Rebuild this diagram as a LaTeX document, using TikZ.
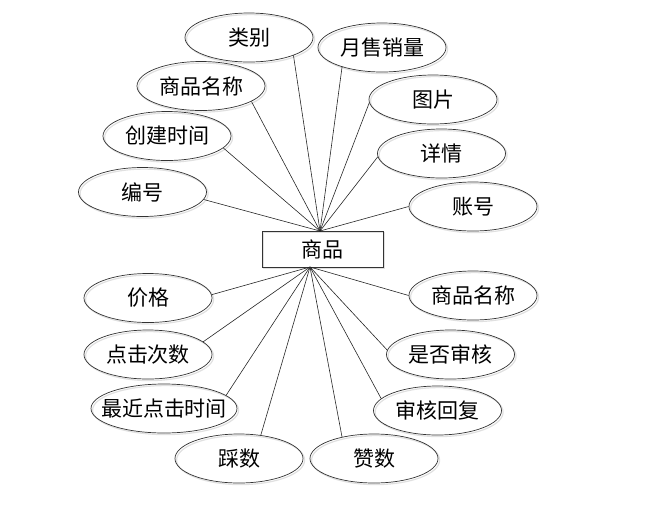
\documentclass[tikz,border=0pt]{standalone}
\usepackage{fontspec}
\newfontfamily\cjk{Noto Sans CJK SC}
\usetikzlibrary{shapes.geometric}
\begin{document}
\begin{tikzpicture}[x=1pt,y=-1pt,
  attr/.style={ellipse,draw=black!80,line width=0.7pt,minimum width=128pt,minimum height=49pt,inner sep=0pt,
    font=\cjk\fontsize{21}{24}\selectfont,
    preaction={draw=black!12,line width=1.2pt,transform canvas={shift={(1.6pt,-1.6pt)}}}},
  ent/.style={rectangle,draw=black!80,line width=0.7pt,minimum width=121pt,minimum height=36pt,inner sep=0pt,
    font=\cjk\fontsize{21}{24}\selectfont,
    preaction={draw=black!12,line width=1.2pt,transform canvas={shift={(1.6pt,-1.6pt)}}}},
  link/.style={draw=black!85,line width=0.6pt}]
\useasboundingbox (0,0) rectangle (649,507);
\node[ent] (goods) at (322.5,249) {商品};
\coordinate (ptop) at (320,231);
\coordinate (pbot) at (310,267);
% top attributes
\node[attr] (a1) at (249,37.5) {类别};
\node[attr] (a2) at (382,47.5) {月售销量};
\node[attr] (a3) at (201,86) {商品名称};
\node[attr] (a4) at (433,99.5) {图片};
\node[attr] (a5) at (167,136) {创建时间};
\node[attr] (a6) at (441.5,153.5) {详情};
\node[attr] (a7) at (142.5,192) {编号};
\node[attr] (a8) at (473,206.5) {账号};
% bottom attributes
\node[attr] (b1) at (148,298) {价格};
\node[attr] (b2) at (473,295.5) {商品名称};
\node[attr] (b3) at (148,354.5) {点击次数};
\node[attr] (b4) at (450.5,354.5) {是否审核};
\node[attr,minimum width=146pt] (b5) at (164,408.5) {\makebox[0pt]{最近点击时间}};
\node[attr] (b6) at (437.5,410.5) {审核回复};
\node[attr] (b7) at (239,458.5) {踩数};
\node[attr] (b8) at (374,458.5) {赞数};
% connectors
\draw[link] (a1.-22) -- (ptop);
\draw[link] (a2.-154) -- (ptop);
\draw[link] (a3.-17) -- (ptop);
\draw[link] (a4.-177) -- (ptop);
\draw[link] (a5.-12) -- (ptop);
\draw[link] (a6.-177) -- (ptop);
\draw[link] (a7.-7) -- (ptop);
\draw[link] (a8.180) -- (ptop);
\draw[link] (b1.3) -- (pbot);
\draw[link] (b2.180) -- (pbot);
\draw[link] (b3.13) -- (pbot);
\draw[link] (b4.176) -- (pbot);
\draw[link] (b5.12) -- (pbot);
\draw[link] (b6.168) -- (pbot);
\draw[link] (b7.47) -- (pbot);
\draw[link] (b8.146) -- (pbot);
\end{tikzpicture}
\end{document}
